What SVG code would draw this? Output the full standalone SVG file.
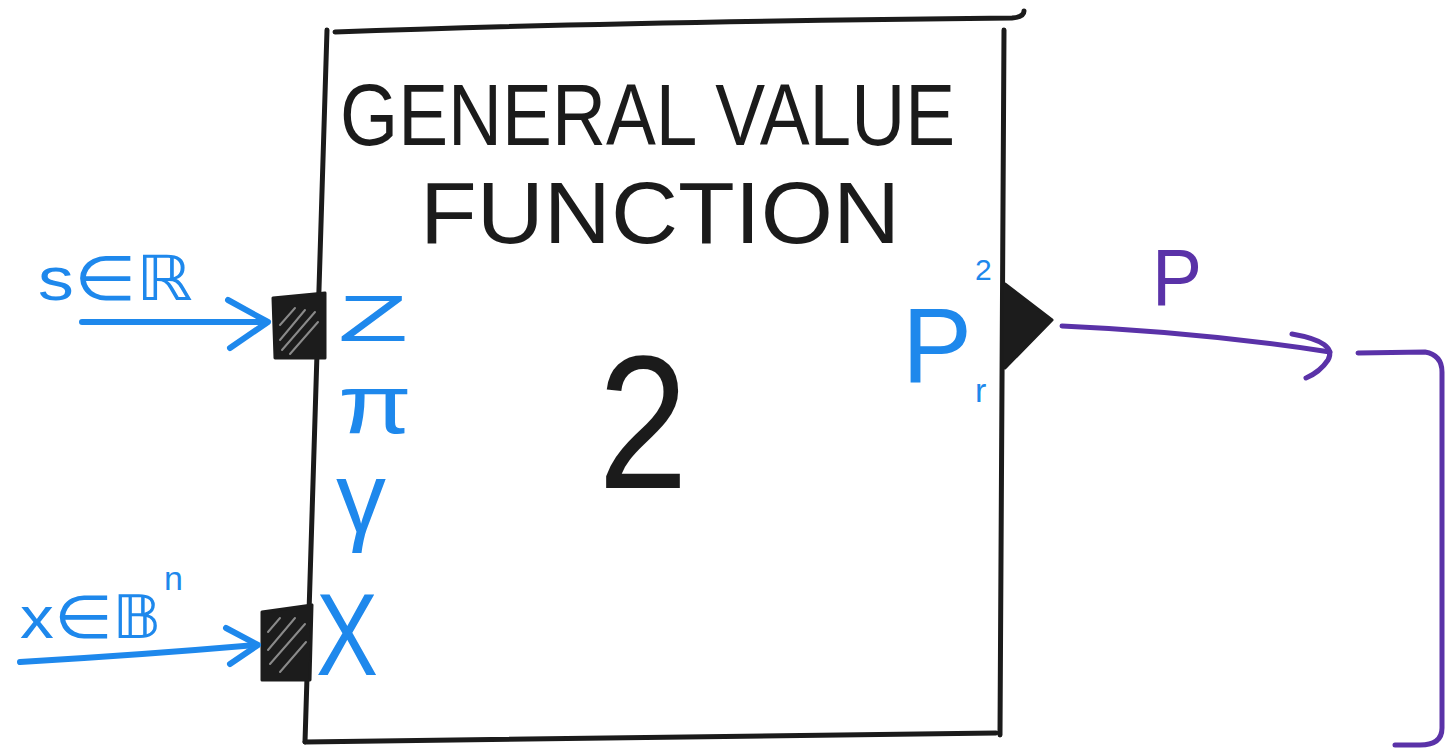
<svg xmlns="http://www.w3.org/2000/svg" width="1451" height="748" viewBox="0 0 1451 748">
<style>
.ink{fill:none;stroke:#1b1b1b;stroke-width:5;stroke-linecap:round;stroke-linejoin:round}
.blue{fill:none;stroke:#1e88ec;stroke-width:6;stroke-linecap:round;stroke-linejoin:round}
.purple{fill:none;stroke:#5a32a8;stroke-width:5;stroke-linecap:round;stroke-linejoin:round}
.port{fill:#1c1c1c;stroke:#1c1c1c;stroke-width:3;stroke-linejoin:round}
.hatch{stroke:#8a8a8a;stroke-width:2;stroke-linecap:round}
.title{font-family:"Liberation Sans",Arial,sans-serif;fill:#1b1b1b}
.lbl{font-family:"Liberation Sans",Arial,sans-serif;fill:#1e88ec}
.plbl{font-family:"Liberation Sans",Arial,sans-serif;fill:#5a32a8}
</style>
<rect width="1451" height="748" fill="#ffffff"/>
<g id="node-gvf">
<path class="ink" d="M335,32 Q600,22 1012,18 Q1024,17 1024,11"/>
<path class="ink" d="M327,30 L305,742"/>
<path class="ink" d="M1004,30 L1000,735"/>
<path class="ink" d="M305,742 L996,733"/>
<text class="title" x="340" y="145" font-size="88" textLength="615" lengthAdjust="spacingAndGlyphs">GENERAL VALUE</text>
<text class="title" x="420" y="243" font-size="88" textLength="480" lengthAdjust="spacingAndGlyphs">FUNCTION</text>
<text class="title" x="598" y="488" font-size="190" textLength="90" lengthAdjust="spacingAndGlyphs">2</text>
<text class="lbl" x="338" y="341" font-size="64" textLength="70" lengthAdjust="spacingAndGlyphs">Z</text>
<text class="lbl" x="338" y="433" font-size="84" textLength="74" lengthAdjust="spacingAndGlyphs">π</text>
<text class="lbl" x="336" y="532" font-size="100">γ</text>
<text class="lbl" x="316" y="675" font-size="116" textLength="62" lengthAdjust="spacingAndGlyphs">X</text>
<text class="lbl" x="902" y="382" font-size="105">P</text>
<text class="lbl" x="975" y="280" font-size="30">2</text>
<text class="lbl" x="975" y="402" font-size="34">r</text>
</g>
<g id="port-z">
<polygon class="port" points="273,298 325,293 325,358 275,358"/>
<line class="hatch" x1="280" y1="340" x2="305" y2="310"/>
<line class="hatch" x1="282" y1="350" x2="315" y2="312"/>
<line class="hatch" x1="290" y1="354" x2="318" y2="322"/>
<line class="hatch" x1="280" y1="325" x2="295" y2="308"/>
</g>
<g id="port-x">
<polygon class="port" points="262,612 312,605 310,680 262,680"/>
<line class="hatch" x1="268" y1="650" x2="295" y2="618"/>
<line class="hatch" x1="270" y1="664" x2="305" y2="624"/>
<line class="hatch" x1="280" y1="672" x2="306" y2="642"/>
<line class="hatch" x1="268" y1="632" x2="280" y2="618"/>
</g>
<g id="port-p">
<polygon class="port" points="1005,284 1052,320 1005,368"/>
</g>
<g id="labels">
<text class="lbl" x="38" y="300" font-size="62" textLength="155" lengthAdjust="spacingAndGlyphs">s∈ℝ</text>
<text class="lbl" x="20" y="638" font-size="60" textLength="142" lengthAdjust="spacingAndGlyphs">x∈𝔹</text>
<text class="lbl" x="164" y="590" font-size="34">n</text>
<text class="plbl" x="1152" y="305" font-size="80" textLength="50" lengthAdjust="spacingAndGlyphs">P</text>
</g>
<g id="connectors">
<path class="blue" d="M82,322 L266,322"/>
<path class="blue" d="M228,300 L268,322 L230,348"/>
<path class="blue" d="M20,662 Q140,655 256,645"/>
<path class="blue" d="M226,628 L258,645 L230,664"/>
<path class="purple" d="M1062,326 Q1200,332 1330,352"/>
<path class="purple" d="M1292,334 Q1338,342 1328,360 Q1320,372 1306,378"/>
<path class="purple" d="M1358,353 L1425,352 Q1442,355 1442,372 L1442,728 Q1442,745 1420,745 L1395,745"/>
</g>
</svg>
